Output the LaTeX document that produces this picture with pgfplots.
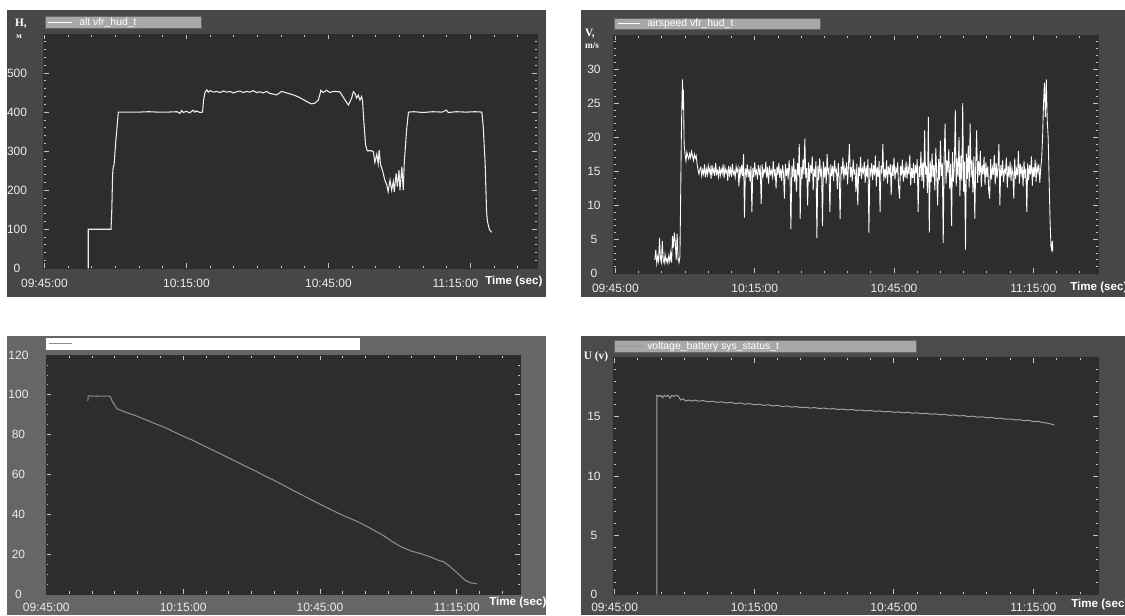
\documentclass[border=0pt]{standalone}
\usepackage{pgfplots}
\pgfplotsset{compat=1.18}
\usepackage{fontspec}
\setmainfont{Liberation Sans}
\newfontfamily\serifb{Liberation Serif}
\definecolor{plotbg}{HTML}{2D2D2D}
\definecolor{panelA}{HTML}{474747}
\definecolor{panelBL}{HTML}{666666}
\definecolor{panelBR}{HTML}{4B4B4B}
\definecolor{legbg}{HTML}{A8A8A8}
\definecolor{tickc}{HTML}{C4C4C4}
\definecolor{labc}{HTML}{ECECEC}
\pgfplotsset{
  panel/.style={
    scale only axis, anchor=north west,
    axis background/.style={fill=plotbg},
    axis line style={plotbg},
    tick align=inside, xtick pos=both, ytick pos=both,
    tick style={tickc, line width=0.6pt},
    major tick length=4pt, minor tick length=2pt,
    xtick={0,30,60,90},
    xticklabels={09:45:00,10:15:00,10:45:00,11:15:00},
    minor xtick={5,10,15,20,25,35,40,45,50,55,65,70,75,80,85,95,100},
    tick label style={font=\fontsize{9}{10}\selectfont, text=labc},
    /pgf/number format/assume math mode=true,
    yticklabel style={anchor=center},
    xticklabel style={anchor=center},
  }
}
\begin{document}
\begin{tikzpicture}
\path[use as bounding box, fill=white] (0pt,0pt) rectangle (843.75pt,-461.25pt);
% panels
\fill[panelA] (5.25pt,-7.5pt) rectangle (409.5pt,-222.75pt);
\fill[panelA] (435.75pt,-7.5pt) rectangle (843.75pt,-223.1pt);
\fill[panelBL] (5.25pt,-252pt) rectangle (409.5pt,-461.25pt);
\fill[panelBR] (435.75pt,-252pt) rectangle (843.75pt,-461.25pt);

% ---------- top left: altitude
\begin{axis}[panel, at={(32.475pt,-25.5pt)}, width=370.65pt, height=175.725pt,
  xmin=-0.25, xmax=104.16, ymin=0, ymax=600,
  ytick={0,100,200,300,400,500},
  minor ytick={20,40,60,80,120,140,160,180,220,240,260,280,320,340,360,380,420,440,460,480,520,540,560,580},
  yticklabel style={xshift=-19.7pt},
  xticklabel style={yshift=-11.25pt},
  xticklabels={09:45:00,10:15:00,10:45:00,\hspace*{-22.5pt}11:15:00}]
\addplot[color=white!93!black, line width=0.8pt] coordinates {
(9.25,0) (9.25,100) (14.05,100) (14.2,140) (14.4,240) (14.5,258) (14.7,265) (15.1,330) (15.6,400)
(18,400) (20,400) (22,401) (24,400) (26,400) (28,401) (28.6,397) (29.0,404) (29.3,399) (30.0,402)
(30.7,398) (31.4,405) (31.8,400) (32.1,403) (32.85,399) (33.4,400) (33.6,430) (33.9,450) (34.3,457)
(34.6,451) (35.0,455) (35.7,451) (36.4,453) (37.1,450) (37.8,454) (38.5,451) (39.2,453) (39.9,449)
(40.6,452) (41.3,454) (42.0,450) (42.7,453) (43.4,451) (44.1,455) (44.8,450) (45.5,452) (46.2,449)
(46.9,453) (47.6,448) (48.35,446) (49.05,444) (49.75,450) (50.1,453) (51.2,449) (52.6,444) (53.6,439)
(54.7,432) (55.4,427) (56.4,421) (57.15,423) (57.85,431) (58.2,446) (58.4,456) (58.9,450) (59.6,456)
(60.3,450) (61.0,453) (62.4,452) (63.5,431) (64.2,418) (64.9,436) (65.25,452) (65.6,448) (65.95,436)
(66.3,444) (66.65,431) (67.0,440) (67.2,427) (67.5,371) (67.85,315) (68.2,301) (69.1,301) (69.5,298)
(69.8,271) (70.2,292) (70.5,268) (70.7,303) (71.0,266) (71.45,249) (71.9,226) (72.3,214) (72.6,196)
(73.0,226) (73.35,200) (73.7,222) (73.9,196) (74.3,243) (74.55,209) (74.9,251) (75.1,200) (75.5,260)
(75.8,200) (76.0,268) (76.5,354) (76.9,400) (78,401) (80,399) (82,401) (84,400) (84.9,405) (85.3,399)
(87,401) (89,400) (91,401) (92.4,400) (92.7,362) (93.1,268) (93.4,144) (93.6,119) (94.0,99) (94.5,92)
};
\end{axis}

% ---------- top right: airspeed
\begin{axis}[panel, at={(459.975pt,-26.25pt)}, width=363.75pt, height=178.875pt,
  xmin=-0.45, xmax=104.0, ymin=0, ymax=35,
  ytick={0,5,10,15,20,25,30},
  minor ytick={1,2,3,4,6,7,8,9,11,12,13,14,16,17,18,19,21,22,23,24,26,27,28,29,31,32,33,34},
  yticklabel style={xshift=-14.5pt},
  xticklabel style={yshift=-11.25pt}]
\addplot[color=white, line width=0.65pt] coordinates {
(8.5,2.0) (8.7,3.5) (8.9,1.5) (9.1,2.5) (9.3,1.8) (9.5,5.2) (9.7,2.2) (9.9,1.6) (10.1,4.8) (10.3,2.0)
(10.5,1.5) (10.7,2.8) (10.9,1.7) (11.1,2.2) (11.3,1.5) (11.5,2.6) (11.7,1.8) (11.9,3.0) (12.1,1.6)
(12.3,5.5) (12.5,3.8) (12.7,6.0) (12.9,4.5) (13.1,2.0) (13.3,5.8) (13.5,2.2) (13.7,1.6) (13.9,2.5)
(14.0,8) (14.2,20) (14.35,26) (14.45,28.5) (14.55,24) (14.65,27) (14.8,19) (15.0,17.5) (15.2,16.5)
(15.4,17.8) (15.6,17.2) (15.8,16.8) (16.0,17.6) (16.2,17.0) (16.4,17.9) (16.6,17.3) (16.8,16.6)
(17.0,17.5) (17.2,16.9) (17.4,17.3) (17.6,16.0) (17.8,15.2) (18.0,14.6) (18.2,15.3)
(18.4,15.6) (18.6,14.3) (18.8,15.2) (19.0,14.6) (19.2,16.0) (19.4,14.1) (19.6,15.3) (19.8,14.5)
(20.0,15.8) (20.2,14.8) (20.4,15.5) (20.6,13.9) (20.8,15.9) (21.0,14.7) (21.2,15.4) (21.4,14.3)
(21.6,16.2) (21.8,14.6) (22.0,15.1) (22.2,14.2) (22.4,15.7) (22.6,14.4) (22.8,15.3) (23.0,14.7)
(23.2,16.0) (23.4,14.0) (23.6,15.6) (23.8,14.8) (24.0,15.2) (24.2,13.6) (24.4,15.8) (24.6,14.5)
(24.8,15.4) (25.0,14.2) (25.2,16.1) (25.4,14.6) (25.6,15.0) (25.8,14.1) (26.0,15.7) (26.2,14.9)
(26.4,15.5) (26.6,12.8) (26.8,15.6) (27.0,14.4) (27.2,15.9) (27.4,14.3) (27.6,17.5) (27.8,8.2)
(28.0,15.4) (28.2,14.5) (28.4,16.0) (28.6,14.1) (28.8,15.3) (29.0,13.5) (29.2,15.8) (29.4,9.0)
(29.6,15.5) (29.8,14.2) (30.0,16.3) (30.2,14.6) (30.4,15.1) (30.6,13.8) (30.8,15.9) (31.0,14.7)
(31.2,15.4) (31.4,10.2) (31.6,16.0) (31.8,14.3) (32.0,15.2) (32.2,14.8) (32.4,16.4) (32.6,14.0)
(32.8,15.6) (33.0,13.2) (33.2,15.8) (33.4,14.6) (33.6,15.1) (33.8,14.2) (34.0,16.5) (34.2,14.4)
(34.4,15.3) (34.6,12.5) (34.8,15.7) (35.0,14.5) (35.2,16.2) (35.4,14.0) (35.6,15.4) (35.8,13.6)
(36.0,15.9) (36.2,14.8) (36.4,11.0) (36.6,16.1) (36.8,14.3) (37.0,15.5) (37.2,13.8) (37.4,16.6)
(37.6,14.6) (37.8,6.5) (38.0,15.8) (38.2,14.1) (38.4,16.9) (38.6,13.5) (38.8,15.3) (39.0,12.0)
(39.2,16.2) (39.4,14.4) (39.6,19.0) (39.8,8.0) (40.0,15.6) (40.2,13.9) (40.4,16.8) (40.6,14.5)
(40.8,19.8) (41.0,14.0) (41.2,15.5) (41.4,10.0) (41.6,16.3) (41.8,13.4) (42.0,15.9) (42.2,14.7)
(42.4,17.2) (42.6,12.2) (42.8,15.4) (43.0,14.2) (43.2,16.5) (43.4,5.2) (43.6,15.8) (43.8,13.7)
(44.0,16.9) (44.2,14.5) (44.4,15.2) (44.6,7.0) (44.8,16.4) (45.0,14.1) (45.2,15.7) (45.4,13.2)
(45.6,17.5) (45.8,14.8) (46.0,15.3) (46.2,9.0) (46.4,16.0) (46.6,14.3) (46.8,15.8) (47.0,13.6)
(47.2,16.6) (47.4,14.9) (47.6,15.2) (47.8,12.4) (48.0,16.2) (48.2,14.0) (48.4,8.0) (48.6,15.7)
(48.8,14.6) (49.0,17.0) (49.2,13.8) (49.4,15.5) (49.6,14.4) (49.8,16.3) (50.0,13.1) (50.2,15.9)
(50.4,19.0) (50.6,14.2) (50.8,15.6) (51.0,13.5) (51.2,16.7) (51.4,14.7) (51.6,15.1) (51.8,12.0)
(52.0,16.1) (52.2,10.0) (52.4,15.6) (52.6,14.3) (52.8,17.1) (53.0,13.9) (53.2,15.4) (53.4,14.8)
(53.6,16.4) (53.8,13.3) (54.0,15.8) (54.2,14.1) (54.4,16.8) (54.6,6.0) (54.8,15.5) (55.0,14.6)
(55.2,16.2) (55.4,13.7) (55.6,15.9) (55.8,14.4) (56.0,17.3) (56.2,12.8) (56.4,15.6) (56.6,14.2)
(56.8,16.5) (57.0,9.0) (57.2,15.8) (57.4,14.7) (57.6,19.0) (57.8,13.6) (58.0,15.3) (58.2,14.0)
(58.4,16.6) (58.6,13.2) (58.8,15.7) (59.0,14.5) (59.2,16.1) (59.4,11.5) (59.6,15.9) (59.8,14.3)
(60.0,17.0) (60.2,13.8) (60.4,15.4) (60.6,14.9) (60.8,16.3) (61.0,12.6) (61.2,11.0) (61.4,15.8)
(61.6,14.4) (61.8,16.7) (62.0,13.5) (62.2,15.2) (62.4,14.1) (62.6,16.4) (62.8,13.9) (63.0,15.6)
(63.2,14.6) (63.4,17.4) (63.6,12.9) (63.8,15.5) (64.0,14.0) (64.2,16.2) (64.4,13.3) (64.6,15.9)
(64.8,14.7) (65.0,16.8) (65.2,9.0) (65.4,15.7) (65.6,14.2) (65.8,17.9) (66.0,13.6) (66.2,16.3)
(66.4,12.5) (66.6,21.0) (66.8,14.5) (67.0,15.8) (67.2,11.8) (67.4,23.0) (67.6,6.0) (67.8,16.5)
(68.0,13.4) (68.2,17.6) (68.4,14.1) (68.6,15.9) (68.8,12.2) (69.0,18.4) (69.2,14.6) (69.4,10.0)
(69.6,16.8) (69.8,13.7) (70.0,19.5) (70.2,14.3) (70.4,16.2) (70.6,4.5) (70.8,17.0) (71.0,22.0)
(71.2,13.2) (71.4,16.6) (71.6,14.8) (71.8,18.2) (72.0,12.4) (72.2,16.1) (72.4,7.0) (72.6,17.8)
(72.8,13.5) (73.0,15.7) (73.2,24.0) (73.4,12.8) (73.6,16.9) (73.8,14.2) (74.0,20.0) (74.2,11.4)
(74.4,17.3) (74.6,13.6) (74.8,25.0) (75.0,12.0) (75.2,16.4) (75.4,3.5) (75.6,17.6) (75.8,13.9)
(76.0,18.8) (76.2,12.6) (76.4,22.0) (76.6,14.1) (76.8,16.7) (77.0,11.9) (77.2,17.2) (77.4,8.0)
(77.6,16.0) (77.8,21.0) (78.0,13.3) (78.2,16.5) (78.4,14.4) (78.6,18.0) (78.8,12.7) (79.0,15.9)
(79.2,14.6) (79.4,17.1) (79.6,13.0) (79.8,16.3) (80.0,14.2) (80.2,15.7) (80.4,12.1) (80.6,11.0)
(80.8,16.8) (81.0,13.8) (81.2,15.5) (81.4,14.5) (81.6,17.4) (81.8,13.1) (82.0,16.2) (82.2,14.0)
(82.4,15.6) (82.6,19.0) (82.8,10.0) (83.0,15.9) (83.2,14.3) (83.4,16.6) (83.6,13.4) (83.8,15.2)
(84.0,14.8) (84.2,17.0) (84.4,12.6) (84.6,15.8) (84.8,14.1) (85.0,16.4) (85.2,13.6) (85.4,15.5)
(85.6,14.7) (85.8,11.0) (86.0,16.9) (86.2,13.9) (86.4,15.3) (86.6,14.4) (86.8,18.0) (87.0,13.2)
(87.2,16.1) (87.4,14.6) (87.6,15.7) (87.8,12.8) (88.0,16.5) (88.2,14.0) (88.4,15.4) (88.6,9.0)
(88.8,16.2) (89.0,13.7) (89.2,15.9) (89.4,14.5) (89.6,17.2) (89.8,12.9) (90.0,15.6) (90.2,14.2)
(90.4,16.7) (90.6,13.5) (90.8,15.8) (91.0,14.9) (91.2,16.0) (91.4,13.3) (91.6,15.5) (91.8,16.8)
(92.0,20.0) (92.2,25.0) (92.4,28.0) (92.6,23.0) (92.8,28.5) (93.0,22.5) (93.2,20.0) (93.4,14.0)
(93.6,8.0) (93.8,4.0) (94.0,3.4) (94.1,4.8) (94.2,3.3)
};
\end{axis}

% ---------- bottom left
\begin{axis}[panel, at={(34.35pt,-266.25pt)}, width=356.175pt, height=179.25pt,
  xmin=-0.11, xmax=104.0, ymin=0, ymax=120,
  ytick={0,20,40,60,80,100,120},
  minor ytick={5,10,15,25,30,35,45,50,55,65,70,75,85,90,95,105,110,115},
  yticklabel style={xshift=-20.5pt},
  xticklabel style={yshift=-9.75pt}]
\addplot[color=black!45, line width=0.8pt] coordinates {
(9.1,97) (9.2,99.5) (11,99.3) (13,99.4) (14.0,99.3) (14.5,96.5) (15.5,93) (17,91.6) (18.5,90.4)
(20,89.2) (22,87.3) (24,85.4) (26,83.6) (28,81.4) (30,79.2) (32,77.3) (34,75.0) (36,72.8) (38,70.6)
(40,68.3) (42,66.1) (44,63.8) (46,61.6) (48,59.2) (50,57.0) (52,54.6) (54,52.1) (56,49.8) (58,47.4)
(60,45.1) (62,42.8) (64,40.6) (66,38.5) (68,36.6) (70,34.3) (72,31.8) (74,29.2) (76,26.1) (78,23.5)
(80,21.6) (82,20.3) (84,18.8) (86,16.9) (87.1,16.2) (88.5,13.8) (90,10.8) (91.8,7.0) (93,5.6) (94.4,5.2)
};
\end{axis}

% ---------- bottom right: voltage
\begin{axis}[panel, at={(459.975pt,-267.975pt)}, width=363.9pt, height=177.9pt,
  xmin=-0.28, xmax=104.0, ymin=0, ymax=20,
  ytick={0,5,10,15},
  minor ytick={1,2,3,4,6,7,8,9,11,12,13,14,16,17,18,19},
  yticklabel style={xshift=-14.5pt},
  xticklabel style={yshift=-9.75pt}]
\addplot[color=black!35, line width=0.7pt] coordinates {
(9.1,0) (9.1,16.8) (9.5,16.7) (9.9,16.8) (10.3,16.6) (10.7,16.8) (11.1,16.7) (11.5,16.8) (11.9,16.55)
(12.3,16.8) (12.7,16.7) (13.1,16.8) (13.5,16.8) (13.9,16.6) (14.2,16.4) (14.7,16.5) (15.3,16.3)
(15.9,16.4) (16.5,16.3) (17.2,16.4) (18,16.3) (19,16.35) (20,16.25) (21,16.3) (22,16.2) (23,16.25)
(24,16.15) (25,16.2) (26,16.1) (27,16.15) (28,16.05) (29,16.1) (30,16.0) (31,16.05) (32,15.95)
(33,16.0) (34,15.9) (35,15.95) (36,15.85) (37,15.9) (38,15.8) (39,15.85) (40,15.75) (41,15.8) (42,15.72)
(43,15.76) (44,15.68) (45,15.72) (46,15.64) (47,15.68) (48,15.6) (49,15.64) (50,15.56) (51,15.6)
(52,15.52) (53,15.56) (54,15.48) (55,15.52) (56,15.44) (57,15.48) (58,15.4) (59,15.44) (60,15.36)
(61,15.4) (62,15.32) (63,15.36) (64,15.28) (65,15.32) (66,15.24) (67,15.28) (68,15.2) (69,15.24)
(70,15.15) (71,15.19) (72,15.1) (73,15.14) (74,15.05) (75,15.09) (76,15.0) (77,15.04) (78,14.95)
(79,14.99) (80,14.9) (81,14.93) (82,14.84) (83,14.87) (84,14.78) (85,14.8) (86,14.72) (87,14.74)
(88,14.66) (89,14.68) (90,14.58) (91,14.6) (92,14.5) (93,14.45) (94,14.35) (94.5,14.3)
};
\end{axis}

% ---------- legends
\filldraw[fill=legbg, draw=black!60, line width=0.4pt] (33.75pt,-12.525pt) rectangle (150.75pt,-21.225pt);
\draw[white, line width=0.8pt] (36pt,-16.875pt) -- (54pt,-16.875pt);
\node[anchor=west, inner sep=0pt, text=white, font=\fontsize{7.8}{9}\selectfont] at (59.25pt,-16.875pt) {alt vfr\_hud\_t};

\filldraw[fill=legbg, draw=black!60, line width=0.4pt] (460.725pt,-13.725pt) rectangle (615pt,-21.975pt);
\draw[white, line width=0.8pt] (463.5pt,-17.85pt) -- (480pt,-17.85pt);
\node[anchor=west, inner sep=0pt, text=white, font=\fontsize{7.8}{9}\selectfont] at (485.25pt,-17.85pt) {airspeed vfr\_hud\_t};

\filldraw[fill=white, draw=black!60, line width=0.4pt] (34.275pt,-252.975pt) rectangle (270.525pt,-262.5pt);
\draw[black!45, line width=0.8pt] (36.75pt,-257.6pt) -- (54pt,-257.6pt);

\filldraw[fill=legbg, draw=black!60, line width=0.4pt] (460.725pt,-255.525pt) rectangle (687pt,-264.225pt);
\draw[black!40, line width=0.8pt] (462.75pt,-259.875pt) -- (481.5pt,-259.875pt);
\node[anchor=west, inner sep=0pt, text=white, font=\fontsize{7.8}{9}\selectfont] at (485.25pt,-259.875pt) {voltage\_battery sys\_status\_t};

% ---------- axis titles
\node[text=white, inner sep=0pt, font=\serifb\bfseries\fontsize{8.5}{9}\selectfont] at (15.75pt,-18pt) {H,};
\node[text=white, inner sep=0pt, font=\serifb\bfseries\fontsize{6}{7}\selectfont] at (14.25pt,-27.75pt) {м};
\node[text=white, inner sep=0pt, font=\serifb\bfseries\fontsize{8.5}{9}\selectfont] at (442.5pt,-25.5pt) {V,};
\node[text=white, inner sep=0pt, font=\serifb\bfseries\fontsize{7}{8}\selectfont] at (444pt,-33.75pt) {m/s};
\node[text=white, inner sep=0pt, font=\serifb\bfseries\fontsize{8.5}{9}\selectfont] at (447pt,-267.5pt) {U (v)};

\node[anchor=west, inner sep=0pt, text=white, font=\bfseries\fontsize{8.7}{10}\selectfont] at (363.75pt,-211.1pt) {Time (sec)};
\node[anchor=west, inner sep=0pt, text=white, font=\bfseries\fontsize{8.7}{10}\selectfont] at (802.5pt,-215.25pt) {Time (sec)};
\node[anchor=west, inner sep=0pt, text=white, font=\bfseries\fontsize{8.7}{10}\selectfont] at (366.75pt,-451.5pt) {Time (sec)};
\node[anchor=west, inner sep=0pt, text=white, font=\bfseries\fontsize{8.7}{10}\selectfont] at (803.25pt,-453pt) {Time (sec)};
\end{tikzpicture}
\end{document}
